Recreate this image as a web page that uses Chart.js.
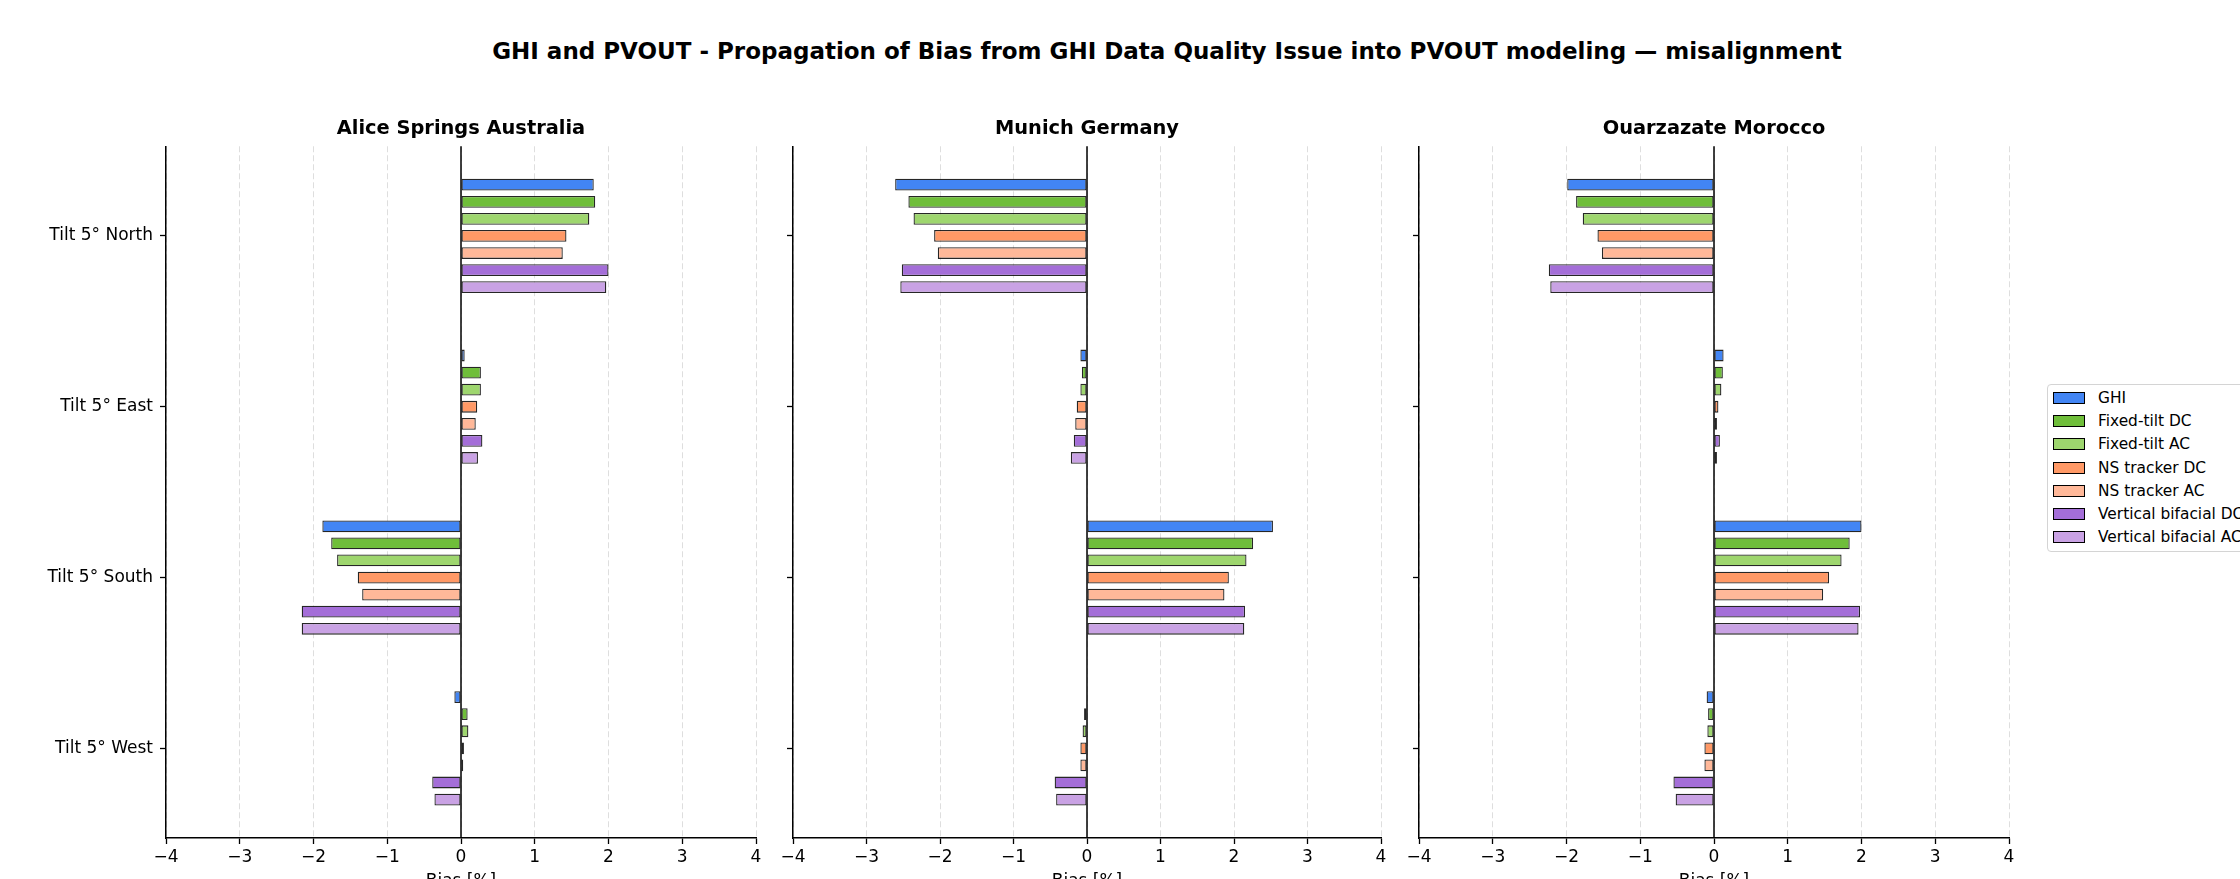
<!DOCTYPE html>
<html>
<head>
<meta charset="utf-8">
<script src="https://cdn.jsdelivr.net/npm/chart.js@4.4.0/dist/chart.umd.min.js"></script>
<style>
  html, body { margin: 0; padding: 0; background: #fff; }
  body { width: 2240px; height: 879px; overflow: hidden; position: relative; font-family: "DejaVu Sans", sans-serif; }
  canvas { position: absolute; top: 100px; }
  #title { position: absolute; top: 36px; left: 0; width: 2334px; text-align: center; font-weight: bold; font-size: 23px; line-height: 30px; color: #000; white-space: nowrap; }
  #legend { position: absolute; left: 2047px; top: 384px; width: 240px; height: 168px; box-sizing: border-box; border: 1px solid #d4d4d4; border-radius: 4px; padding-top: 1px; background: #fff; }
  .item { height: 23.3px; display: flex; align-items: center; font-size: 15.4px; color: #000; white-space: nowrap; }
  .sw { width: 32px; height: 12px; box-sizing: border-box; border: 1.3px solid #000; margin-left: 5px; margin-right: 13px; }
</style>
</head>
<body>
<div id="title">GHI and PVOUT - Propagation of Bias from GHI Data Quality Issue into PVOUT modeling — misalignment</div>
<canvas id="c0" width="776" height="820" style="left:0px"></canvas>
<canvas id="c1" width="624" height="820" style="left:777px"></canvas>
<canvas id="c2" width="626" height="820" style="left:1403px"></canvas>
<div id="legend"></div>
<script>
// categories and series
var categories = ["Tilt 5° North", "Tilt 5° East", "Tilt 5° South", "Tilt 5° West"];
var seriesNames = ["GHI", "Fixed-tilt DC", "Fixed-tilt AC", "NS tracker DC", "NS tracker AC", "Vertical bifacial DC", "Vertical bifacial AC"];
var siteNames = ["Alice Springs Australia", "Munich Germany", "Ouarzazate Morocco"];
var xTicks = [-4, -3, -2, -1, 0, 1, 2, 3, 4];

// bias [%] per series (rows) and orientation (columns)
var aliceSprings = [
  [1.80, 0.05, -1.88, -0.09],
  [1.82, 0.27, -1.76, 0.09],
  [1.74, 0.27, -1.68, 0.10],
  [1.43, 0.22, -1.40, 0.04],
  [1.38, 0.20, -1.34, 0.03],
  [2.00, 0.29, -2.16, -0.39],
  [1.97, 0.23, -2.16, -0.36]
];
var munich = [
  [-2.61, -0.09, 2.53, 0.01],
  [-2.43, -0.07, 2.26, -0.04],
  [-2.36, -0.09, 2.17, -0.06],
  [-2.08, -0.14, 1.93, -0.09],
  [-2.03, -0.16, 1.87, -0.09],
  [-2.52, -0.18, 2.15, -0.44],
  [-2.54, -0.22, 2.14, -0.42]
];
var ouarzazate = [
  [-1.99, 0.13, 2.00, -0.10],
  [-1.87, 0.12, 1.84, -0.08],
  [-1.78, 0.10, 1.73, -0.09],
  [-1.58, 0.06, 1.56, -0.13],
  [-1.52, 0.04, 1.48, -0.13],
  [-2.24, 0.08, 1.98, -0.55],
  [-2.22, 0.04, 1.96, -0.52]
];

var colors = ["#4285F4", "#6FBE3A", "#9ED66E", "#FF9966", "#FFB899", "#A46ED8", "#C9A2E4"];

var zeroLine = {
  id: 'zeroLine',
  beforeDatasetsDraw: function(chart) {
    var x = chart.scales.x.getPixelForValue(0);
    var a = chart.chartArea;
    var ctx = chart.ctx;
    ctx.save();
    ctx.strokeStyle = '#000';
    ctx.lineWidth = 1.5;
    ctx.beginPath();
    ctx.moveTo(x, a.top);
    ctx.lineTo(x, a.bottom);
    ctx.stroke();
    ctx.restore();
  }
};

function makePanel(id, site, values, showLabels) {
  var yWidth = showLabels ? 166 : 16;
  new Chart(document.getElementById(id), {
    type: 'bar',
    data: {
      datasets: seriesNames.map(function(name, i) {
        return {
          label: name,
          data: values[i].map(function(v, j) { return { x: v, y: j }; }),
          backgroundColor: colors[i],
          borderColor: 'rgba(0,0,0,0.85)',
          borderWidth: 1.3,
          borderSkipped: false,
          categoryPercentage: 0.7,
          barPercentage: 0.69
        };
      })
    },
    options: {
      indexAxis: 'y',
      responsive: false,
      animation: false,
      layout: { padding: { left: 0, right: 20, top: 0, bottom: 0 } },
      plugins: {
        legend: { display: false },
        tooltip: { enabled: false },
        title: {
          display: true,
          text: site,
          fullSize: false,
          color: '#000',
          font: { family: 'DejaVu Sans', size: 19.4, weight: 'bold' },
          padding: { top: 17, bottom: 6 }
        }
      },
      scales: {
        x: {
          type: 'linear',
          min: -4,
          max: 4,
          afterBuildTicks: function(s) { s.ticks = xTicks.map(function(v) { return { value: v }; }); },
          afterFit: function(s) { s.height = 82; },
          ticks: {
            color: '#000',
            padding: 3,
            font: { family: 'DejaVu Sans', size: 17 },
            callback: function(v) { return v < 0 ? '\u2212' + Math.abs(v) : String(v); }
          },
          grid: {
            color: 'rgba(0,0,0,0.13)',
            lineWidth: 1,
            tickColor: '#000',
            tickLength: 6,
            tickWidth: 1.3
          },
          border: { display: true, color: '#000', width: 1.5, dash: [6, 3] },
          title: {
            display: true,
            text: 'Bias [%]',
            color: '#000',
            font: { family: 'DejaVu Sans', size: 17 },
            padding: { top: 0, bottom: 28 }
          }
        },
        y: {
          type: 'linear',
          reverse: true,
          offset: false,
          min: -0.525,
          max: categories.length - 0.475,
          afterBuildTicks: function(s) { s.ticks = categories.map(function(c, j) { return { value: j }; }); },
          afterFit: function(s) { s.width = yWidth; },
          ticks: {
            display: showLabels,
            color: '#000',
            padding: 7,
            font: { family: 'DejaVu Sans', size: 17 },
            callback: function(v) { return categories[v]; }
          },
          grid: {
            offset: false,
            drawOnChartArea: false,
            drawTicks: true,
            tickColor: '#000',
            tickLength: 6,
            tickWidth: 1.3
          },
          border: { display: true, color: '#000', width: 1.5 }
        }
      }
    },
    plugins: [zeroLine]
  });
}

makePanel('c0', siteNames[0], aliceSprings, true);
makePanel('c1', siteNames[1], munich, false);
makePanel('c2', siteNames[2], ouarzazate, false);

// legend built from the series names and colours
var legend = document.getElementById('legend');
seriesNames.forEach(function(name, i) {
  var row = document.createElement('div');
  row.className = 'item';
  var sw = document.createElement('div');
  sw.className = 'sw';
  sw.style.background = colors[i];
  row.appendChild(sw);
  row.appendChild(document.createTextNode(name));
  legend.appendChild(row);
});
</script>
</body>
</html>
